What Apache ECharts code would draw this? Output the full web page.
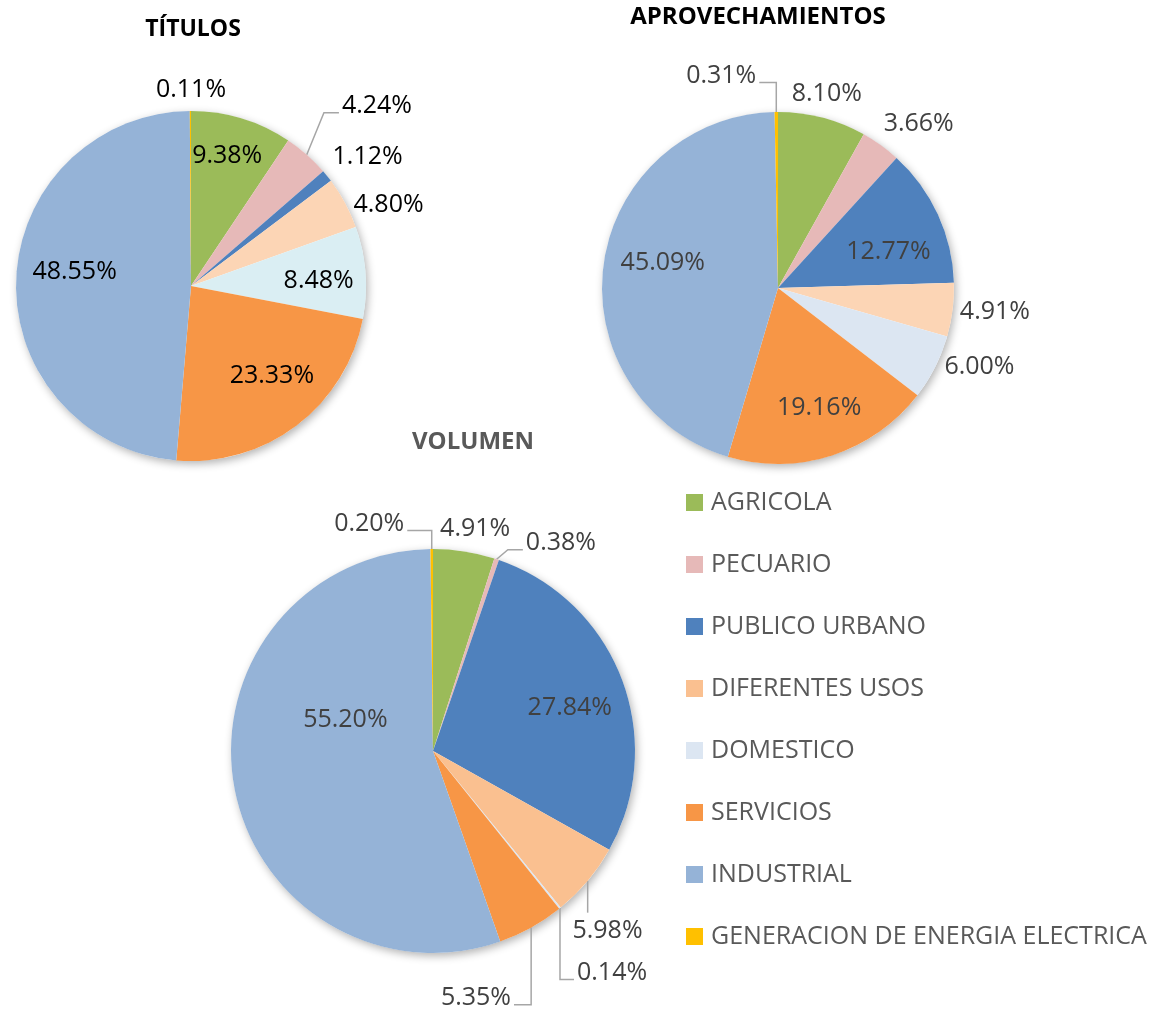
<!DOCTYPE html>
<html>
<head>
<meta charset="utf-8">
<title>Usos del agua</title>
<script src="https://cdn.jsdelivr.net/npm/echarts@6/dist/echarts.min.js"></script>
<style>
    html, body { margin: 0; padding: 0; background: #fff; }
    #chart1 { width: 1158px; height: 1009px; }
</style>
</head>
<body>
<div id="chart1"></div>
<script>
// categorias (orden de la leyenda y de los sectores, en sentido horario desde arriba)
var categories = ['AGRICOLA', 'PECUARIO', 'PUBLICO URBANO', 'DIFERENTES USOS', 'DOMESTICO', 'SERVICIOS', 'INDUSTRIAL', 'GENERACION DE ENERGIA ELECTRICA'];

// porcentajes de cada grafica
var titulosValues = [9.38, 4.24, 1.12, 4.80, 8.48, 23.33, 48.55, 0.11];
var aprovechamientosValues = [8.10, 3.66, 12.77, 4.91, 6.00, 19.16, 45.09, 0.31];
var volumenValues = [4.91, 0.38, 27.84, 5.98, 0.14, 5.35, 55.20, 0.20];

// colores
var legendColors = ['#9BBB59', '#E6B9B8', '#4F81BD', '#FAC090', '#DCE6F2', '#F79646', '#95B3D7', '#FFC000'];
var titulosColors = ['#9BBB59', '#E6B9B8', '#4F81BD', '#FCD5B5', '#DAEEF3', '#F79646', '#95B3D7', '#FFC000'];
var aprovColors = ['#9BBB59', '#E6B9B8', '#4F81BD', '#FCD5B5', '#DCE6F2', '#F79646', '#95B3D7', '#FFC000'];
var volColors = legendColors;

// posicion de etiquetas: [factor de radio, giro en grados respecto al centro del sector]
var titulosSpots = [[0.77, -1.3], [1.48, 4.5], [1.25, 2.8], [1.22, 6], [0.73, 2.2], [0.69, -4.9], [0.67, 4.8], [1.12, 0.2]];
var aprovSpots = [[1.14, -0.5], [1.23, 4.8], [0.66, 6.7], [1.24, -0.8], [1.23, -5.3], [0.72, -1], [0.67, 4.6], [1.25, -14.4]];
var volSpots = [[1.12, 1.9], [1.21, 13.2], [0.71, 3.4], [1.24, 5.8], [1.41, 0], [1.24, 19.2], [0.46, 29.5], [1.17, -15.3]];

// lineas guia: '' sin linea, 'vert' vertical y luego horizontal, 'diag' diagonal y horizontal, 'down' solo vertical
var titulosLines = ['', 'diag', '', '', '', '', '', ''];
var aprovLines = ['', '', '', '', '', '', '', 'vert'];
var volLines = ['', 'diag', '', 'down', 'vert', 'vert', '', 'vert'];

var FONT = '"Open Sans", "DejaVu Sans", sans-serif';

function polar(center, r, deg) {
    var a = deg * Math.PI / 180;
    return [center[0] + r * Math.sin(a), center[1] - r * Math.cos(a)];
}

function midAngles(values) {
    var total = 0, cum = 0, out = [];
    values.forEach(function (v) { total += v; });
    values.forEach(function (v) {
        out.push((cum + v / 2) / total * 360);
        cum += v;
    });
    return out;
}

function buildPie(values, colors, center, radius, spots, lines, labelColor) {
    var mids = midAngles(values);

    var data = values.map(function (v, i) {
        return {
            name: categories[i],
            value: v,
            itemStyle: { color: colors[i] },
            labelLine: { show: !!lines[i] }
        };
    });

    return {
        type: 'pie',
        center: center,
        radius: radius,
        startAngle: 90,
        clockwise: true,
        avoidLabelOverlap: false,
        emphasis: { disabled: true },
        itemStyle: { borderWidth: 0 },
        label: {
            show: true,
            position: 'outside',
            color: labelColor,
            fontFamily: FONT,
            fontSize: 25,
            formatter: function (p) {
                return p.value.toFixed(2) + '%';
            }
        },
        labelLine: {
            lineStyle: { color: '#A6A6A6', width: 1.5 }
        },
        labelLayout: function (params) {
            var i = params.dataIndex;
            var spot = spots[i];
            var pos = polar(center, radius * spot[0], mids[i] + spot[1]);
            var res = { x: pos[0], y: pos[1], align: 'center', verticalAlign: 'middle' };

            var mode = lines[i];
            if (mode) {
                var w = params.labelRect.width;
                var p0 = polar(center, radius, mids[i]);
                var right = pos[0] > p0[0];
                var nearX = right ? pos[0] - w / 2 - 3 : pos[0] + w / 2 + 3;
                var lineY = pos[1] + 7;
                if (mode === 'vert') {
                    res.labelLinePoints = [p0, [p0[0], lineY], [nearX, lineY]];
                } else if (mode === 'diag') {
                    res.labelLinePoints = [p0, [right ? nearX - 15 : nearX + 15, lineY], [nearX, lineY]];
                } else {
                    res.labelLinePoints = [p0, [p0[0], pos[1] - 18], [p0[0], pos[1] - 18]];
                }
            }
            return res;
        },
        data: data
    };
}

// sombra suave detras de cada pastel
function shadowCircle(center, radius) {
    return {
        type: 'circle',
        silent: true,
        z: 0,
        shape: { cx: center[0], cy: center[1], r: radius },
        style: {
            fill: '#ffffff',
            shadowBlur: 8,
            shadowOffsetX: 2,
            shadowOffsetY: 3,
            shadowColor: 'rgba(0,0,0,0.3)'
        }
    };
}

var titCenter = [191, 286], titR = 175;
var aprCenter = [778, 288], aprR = 176;
var volCenter = [433, 751], volR = 202;

var chart = echarts.init(document.getElementById('chart1'));

var option = {
    backgroundColor: '#ffffff',
    animation: false,
    title: [
        { text: 'TÍTULOS', left: 193, top: 18, textAlign: 'center', padding: 0,
          textStyle: { fontFamily: FONT, fontSize: 23, fontWeight: 'bold', color: '#000000' } },
        { text: 'APROVECHAMIENTOS', left: 758, top: 5, textAlign: 'center', padding: 0,
          textStyle: { fontFamily: FONT, fontSize: 24, fontWeight: 'bold', color: '#000000' } },
        { text: 'VOLUMEN', left: 473, top: 430, textAlign: 'center', padding: 0,
          textStyle: { fontFamily: FONT, fontSize: 24, fontWeight: 'bold', color: '#595959' } }
    ],
    legend: {
        orient: 'vertical',
        left: 686,
        top: 490,
        padding: 0,
        itemWidth: 17,
        itemHeight: 17,
        itemGap: 37,
        icon: 'rect',
        selectedMode: false,
        textStyle: { fontFamily: FONT, fontSize: 25, color: '#595959', padding: [0, 0, 0, 3] },
        data: categories.map(function (c, i) {
            return { name: c, itemStyle: { color: legendColors[i] } };
        })
    },
    graphic: [
        shadowCircle(titCenter, titR),
        shadowCircle(aprCenter, aprR),
        shadowCircle(volCenter, volR)
    ],
    series: [
        buildPie(titulosValues, titulosColors, titCenter, titR, titulosSpots, titulosLines, '#000000'),
        buildPie(aprovechamientosValues, aprovColors, aprCenter, aprR, aprovSpots, aprovLines, '#404040'),
        buildPie(volumenValues, volColors, volCenter, volR, volSpots, volLines, '#404040')
    ]
};

chart.setOption(option);
</script>
</body>
</html>
